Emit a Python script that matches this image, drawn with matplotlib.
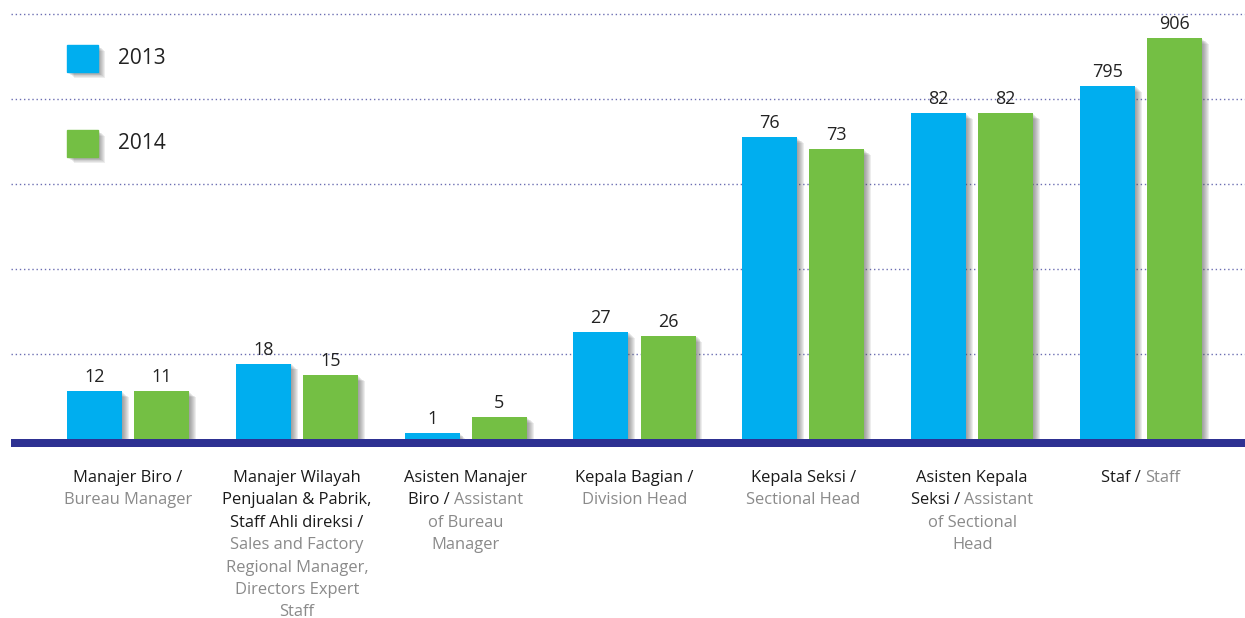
import matplotlib
matplotlib.use('Agg')
import matplotlib.pyplot as plt
import matplotlib.patheffects as pe
from matplotlib.patches import Rectangle
from matplotlib.transforms import IdentityTransform

plt.rcParams['font.family'] = ['Open Sans', 'DejaVu Sans']

# data
years = ['2013', '2014']
values_2013 = [12, 18, 1, 27, 76, 82, 795]
values_2014 = [11, 15, 5, 26, 73, 82, 906]
# the chart uses a broken scale: drawn heights (axis units) for each bar
heights_2013 = [12, 19, 1.5, 27, 76, 82, 89]
heights_2014 = [12, 16, 5.5, 26, 73, 82, 101]

# category labels, each line is a list of (text, kind) pieces: k=Indonesian, g=English
categories = [
    [[('Manajer Biro /', 'k')], [('Bureau Manager', 'g')]],
    [[('Manajer Wilayah', 'k')], [('Penjualan & Pabrik,', 'k')],
     [('Staff Ahli direksi /', 'k')], [('Sales and Factory', 'g')],
     [('Regional Manager,', 'g')], [('Directors Expert', 'g')], [('Staff', 'g')]],
    [[('Asisten Manajer', 'k')], [('Biro / ', 'k'), ('Assistant', 'g')],
     [('of Bureau', 'g')], [('Manager', 'g')]],
    [[('Kepala Bagian /', 'k')], [('Division Head', 'g')]],
    [[('Kepala Seksi /', 'k')], [('Sectional Head', 'g')]],
    [[('Asisten Kepala', 'k')], [('Seksi / ', 'k'), ('Assistant', 'g')],
     [('of Sectional', 'g')], [('Head', 'g')]],
    [[('Staf / ', 'k'), ('Staff', 'g')]],
]

BLUE = '#00aeef'
GREEN = '#74bf44'
NAVY = '#2e3192'
TEXT_COLORS = {'k': '#1a1a1a', 'g': '#8a8a8a'}

W, H = 1245, 618
PX_PER_UNIT = 3.97

fig = plt.figure(figsize=(W / 100, H / 100), dpi=100)
ax = fig.add_axes([11 / W, (H - 447) / H, 1234 / W, 447 / H])
ax.set_xlim(-0.693, 6.616)
ax.set_ylim(-8 / PX_PER_UNIT, 439 / PX_PER_UNIT)
ax.axis('off')

# dotted gridlines
for k in range(1, 6):
    ax.axhline(21.4 * k, color=NAVY, lw=1.0, ls=(0, (1, 2)), alpha=0.7, zorder=1)

# baseline band
ax.axhspan(-8 / PX_PER_UNIT, 0, color=NAVY, zorder=5, lw=0)

shadow = [pe.SimplePatchShadow(offset=(0.7 * k, -0.6 * k), shadow_rgbFace='#555555', alpha=0.1)
          for k in range(1, 8)] + [pe.Normal()]

x = list(range(len(categories)))
width = 0.326
off = 0.199
bars1 = ax.bar([i - off for i in x], heights_2013, width, color=BLUE, zorder=3)
bars2 = ax.bar([i + off for i in x], heights_2014, width, color=GREEN, zorder=3)
for b in list(bars1) + list(bars2):
    b.set_path_effects(shadow)

# value labels
for bars, vals in [(bars1, values_2013), (bars2, values_2014)]:
    for b, v in zip(bars, vals):
        ax.annotate(str(v), (b.get_x() + b.get_width() / 2, b.get_height()),
                    xytext=(0, 6.5), textcoords='offset points', ha='center', va='baseline',
                    fontsize=13, color='#222222', zorder=6)

# legend
for j, (name, col) in enumerate(zip(years, [BLUE, GREEN])):
    top = 45 + 85 * j
    r = Rectangle((67 / W, 1 - (top + 27) / H), 31 / W, 27 / H, transform=fig.transFigure,
                  color=col, zorder=3)
    r.set_path_effects(shadow)
    fig.add_artist(r)
    fig.text(118 / W, 1 - (top + 13.5) / H, name, fontsize=15, color='#222222',
             va='center', ha='left')

# category labels with mixed colours
fig.canvas.draw()
renderer = fig.canvas.get_renderer()
for i, lines in enumerate(categories):
    cx = ax.transData.transform((i, 0))[0]
    for n, pieces in enumerate(lines):
        base = H - (482 + 22.4 * n)
        texts = []
        for s, kind in pieces:
            t = fig.text(0, base, s, transform=IdentityTransform(), fontsize=11.9,
                         color=TEXT_COLORS[kind], ha='left', va='baseline')
            texts.append(t)
        widths = [t.get_window_extent(renderer).width for t in texts]
        xpos = cx - sum(widths) / 2
        for t, w in zip(texts, widths):
            t.set_x(xpos)
            xpos += w

fig.savefig('out.png', dpi=100)
